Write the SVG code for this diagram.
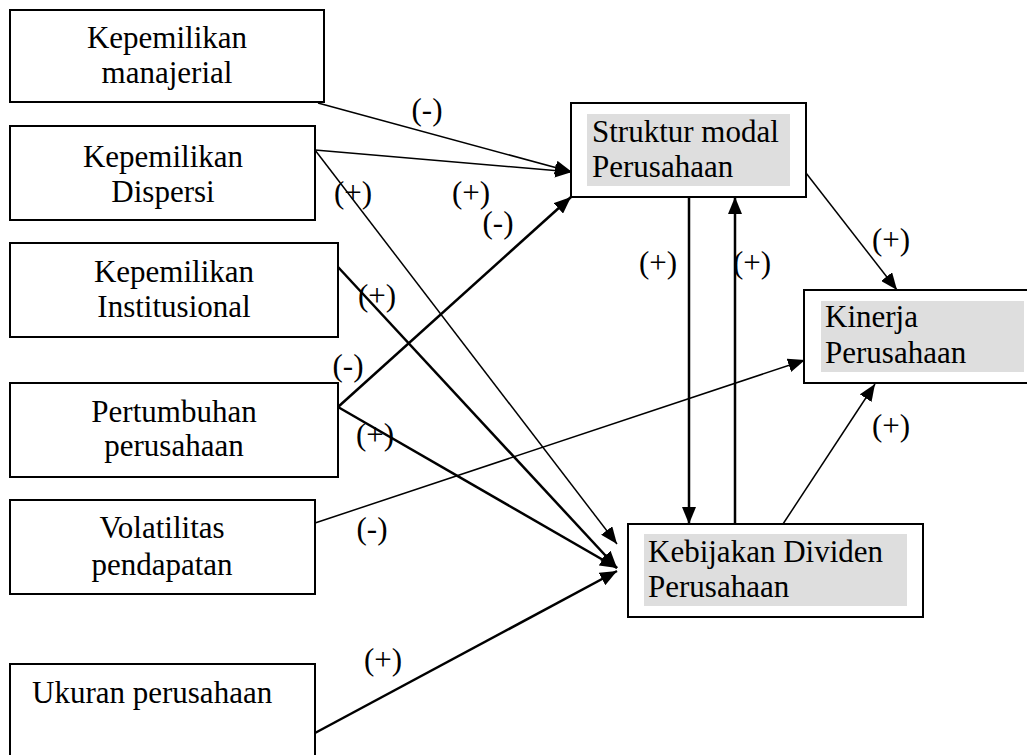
<svg xmlns="http://www.w3.org/2000/svg" width="1027" height="755" viewBox="0 0 1027 755">
<style>
.box{fill:#fff;stroke:#000;stroke-width:2}
.hl{fill:#dedede}
text{font-family:"Liberation Serif","Times New Roman",serif;font-size:31px;fill:#000}
.c{text-anchor:middle}
.thin{stroke:#000;stroke-width:1.5;fill:none;marker-end:url(#ah)}
.thick{stroke:#000;stroke-width:2.5;fill:none;marker-end:url(#ah)}
</style>
<defs>
<marker id="ah" markerUnits="userSpaceOnUse" markerWidth="18" markerHeight="14" refX="17" refY="7" orient="auto">
<path d="M0,0 L17,7 L0,14 Z" fill="#000"/>
</marker>
</defs>
<g id="connectors">
<line class="thin" x1="318" y1="103" x2="572" y2="172"/>
<line class="thin" x1="315" y1="150" x2="572" y2="172"/>
<line class="thin" x1="315" y1="150" x2="617" y2="544"/>
<line class="thick" x1="338" y1="267" x2="617" y2="568"/>
<line class="thick" x1="338" y1="407" x2="571" y2="197"/>
<line class="thick" x1="338" y1="407" x2="617" y2="568"/>
<line class="thin" x1="315" y1="523" x2="805" y2="360"/>
<line class="thick" x1="315" y1="733" x2="617" y2="571"/>
<line class="thick" x1="689" y1="197" x2="689" y2="524"/>
<line class="thick" x1="735" y1="524" x2="735" y2="197"/>
<line class="thin" x1="806" y1="173" x2="897" y2="290"/>
<line class="thin" x1="783" y1="524" x2="875" y2="384"/>
</g>
<g id="labels">
<text class="c" x="427" y="120">(-)</text>
<text class="c" x="353" y="203">(+)</text>
<text class="c" x="471" y="203">(+)</text>
<text class="c" x="498" y="233">(-)</text>
<text class="c" x="377" y="306">(+)</text>
<text class="c" x="348" y="376">(-)</text>
<text class="c" x="375" y="445">(+)</text>
<text class="c" x="372" y="539">(-)</text>
<text class="c" x="383" y="670">(+)</text>
<text class="c" x="658" y="273">(+)</text>
<text class="c" x="752" y="273">(+)</text>
<text class="c" x="891" y="250">(+)</text>
<text class="c" x="891" y="436">(+)</text>
</g>
<g id="n-manajerial">
<rect class="box" x="10" y="10" width="314" height="92"/>
<text class="c" x="167" y="48">Kepemilikan</text>
<text class="c" x="167" y="83">manajerial</text>
</g>
<g id="n-dispersi">
<rect class="box" x="10" y="126" width="305" height="94"/>
<text class="c" x="163" y="167">Kepemilikan</text>
<text class="c" x="163" y="202">Dispersi</text>
</g>
<g id="n-institusional">
<rect class="box" x="10" y="243" width="328" height="94"/>
<text class="c" x="174" y="282">Kepemilikan</text>
<text class="c" x="174" y="317">Institusional</text>
</g>
<g id="n-pertumbuhan">
<rect class="box" x="10" y="383" width="328" height="94"/>
<text class="c" x="174" y="422">Pertumbuhan</text>
<text class="c" x="174" y="456">perusahaan</text>
</g>
<g id="n-volatilitas">
<rect class="box" x="10" y="500" width="305" height="94"/>
<text class="c" x="162" y="538">Volatilitas</text>
<text class="c" x="162" y="575">pendapatan</text>
</g>
<g id="n-ukuran">
<rect class="box" x="10" y="664" width="305" height="100"/>
<text x="32" y="703">Ukuran perusahaan</text>
</g>
<g id="n-struktur">
<rect class="box" x="571" y="103" width="235" height="94"/>
<rect class="hl" x="587" y="114" width="203" height="72"/>
<text x="592" y="142">Struktur modal</text>
<text x="592" y="177">Perusahaan</text>
</g>
<g id="n-kinerja">
<rect class="box" x="804" y="290" width="230" height="93"/>
<rect class="hl" x="821" y="301" width="203" height="71"/>
<text x="825" y="327">Kinerja</text>
<text x="825" y="363">Perusahaan</text>
</g>
<g id="n-kebijakan">
<rect class="box" x="628" y="524" width="295" height="93"/>
<rect class="hl" x="644" y="534" width="263" height="72"/>
<text x="648" y="562">Kebijakan Dividen</text>
<text x="648" y="597">Perusahaan</text>
</g>
</svg>
